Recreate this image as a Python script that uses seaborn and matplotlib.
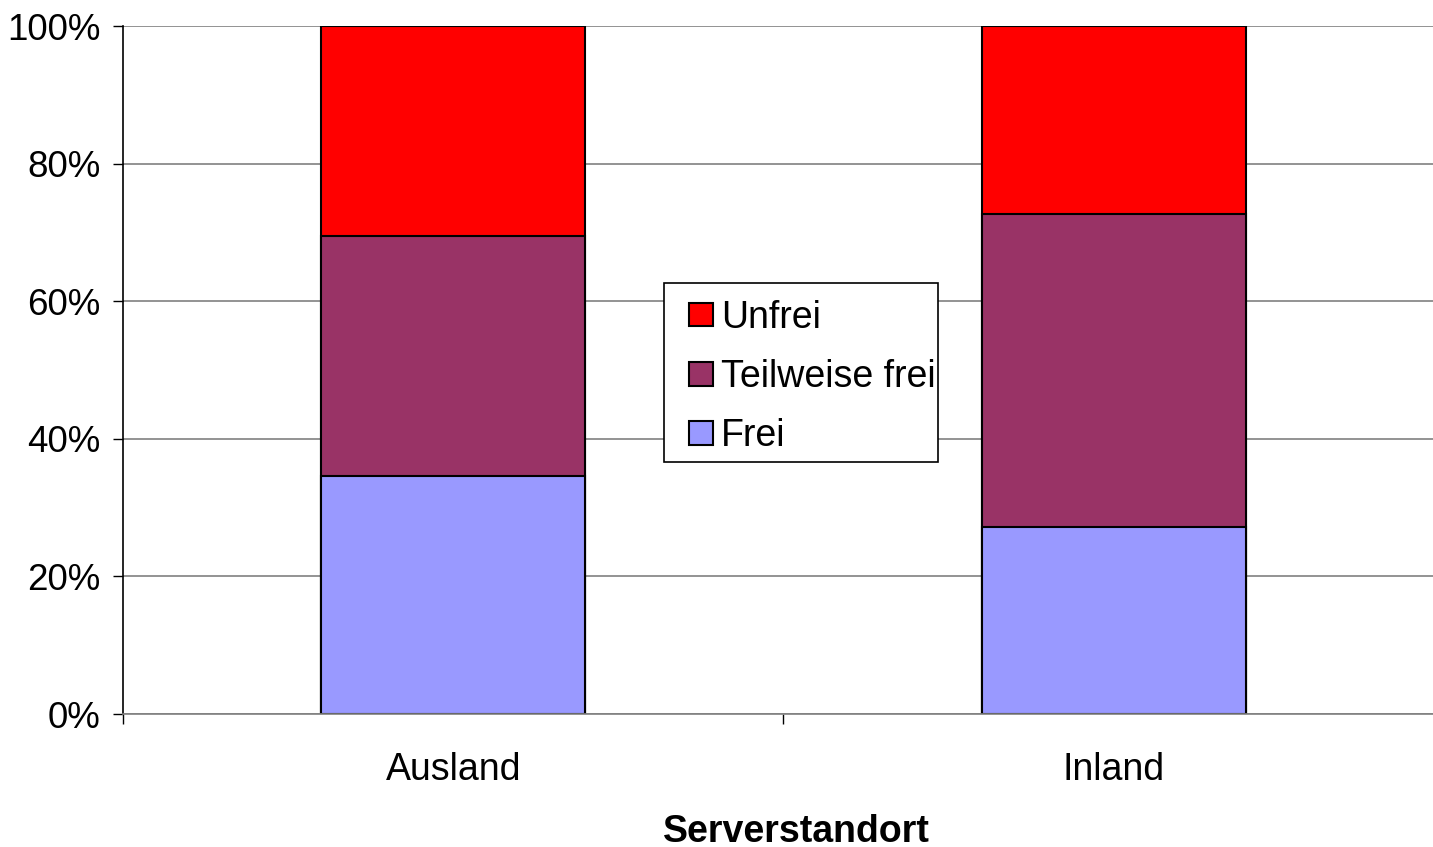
import seaborn as sns
import matplotlib.pyplot as plt
import pandas as pd
from matplotlib.patches import Patch, Rectangle
from matplotlib.legend_handler import HandlerPatch
from matplotlib.ticker import PercentFormatter

# Werte (Anteile in %)
standorte = ["Ausland", "Inland"]
frei = [34.6, 27.2]
teilweise_frei = [34.9, 45.5]
unfrei = [30.5, 27.3]

farben = {"Unfrei": "#FF0000", "Teilweise frei": "#993366", "Frei": "#9999FF"}

df = pd.DataFrame({"Serverstandort": standorte, "Frei": frei,
                   "Teilweise frei": teilweise_frei, "Unfrei": unfrei})
# kumulierte Hoehen fuer gestapelte Balken
df["cum_frei"] = df["Frei"]
df["cum_teil"] = df["Frei"] + df["Teilweise frei"]
df["cum_unfrei"] = df["cum_teil"] + df["Unfrei"]

sns.set_style("white")
plt.rcParams["font.family"] = ["Liberation Sans", "DejaVu Sans"]
plt.rcParams["text.color"] = "black"
plt.rcParams["axes.labelcolor"] = "black"
plt.rcParams["xtick.color"] = "black"
plt.rcParams["ytick.color"] = "black"

fig = plt.figure(figsize=(14.33, 8.47), dpi=100)
ax = fig.add_axes([0.0858, 0.157, 0.9218, 0.8123])
ax.set_axisbelow(True)
ax.yaxis.grid(True, color="#808080", lw=1.2)

for col, name in [("cum_unfrei", "Unfrei"), ("cum_teil", "Teilweise frei"), ("cum_frei", "Frei")]:
    sns.barplot(data=df, x="Serverstandort", y=col, color=farben[name], width=0.4,
                edgecolor="black", linewidth=1.5, saturation=1, ax=ax)

ax.set_ylim(0, 100)
ax.set_xlim(-0.5, 1.5)
ax.set_yticks([0, 20, 40, 60, 80, 100])
ax.yaxis.set_major_formatter(PercentFormatter(decimals=0))
ax.tick_params(axis="y", labelsize=26.5, length=7, width=1, direction="out", left=True, pad=9)
ax.tick_params(axis="x", which="major", labelsize=27, length=0, pad=27)
ax.set_xticks([-0.5, 0.5, 1.5], minor=True)
ax.tick_params(axis="x", which="minor", length=7, width=1, direction="out", bottom=True, color="black")
ax.set_ylabel("")
ax.set_xlabel("Serverstandort", fontsize=27, fontweight="bold")
ax.xaxis.set_label_coords(0.51, -0.145)

for s in ["top", "right"]:
    ax.spines[s].set_visible(False)
ax.spines["left"].set_color("black")
ax.spines["left"].set_linewidth(1.2)
ax.spines["bottom"].set_color("#808080")
ax.spines["bottom"].set_linewidth(1.2)


# quadratisches Legendensymbol, rechtsbuendig im Handle-Feld
def square_patch(legend, orig_handle, xdescent, ydescent, width, height, fontsize):
    return Rectangle((-xdescent + width - height, -ydescent), height, height)


handles = [Patch(facecolor=farben[n], edgecolor="black", linewidth=1.5, label=n)
           for n in ["Unfrei", "Teilweise frei", "Frei"]]
leg = ax.legend(handles=handles, loc="upper left", bbox_to_anchor=(0.4095, 0.6265),
                fontsize=27, frameon=False, handlelength=0.85, handleheight=0.58,
                handletextpad=0.22, labelspacing=0.62, borderpad=0.45, borderaxespad=0,
                handler_map={Patch: HandlerPatch(patch_func=square_patch)})
# enger Legendenrahmen wie im Original
ax.add_patch(Rectangle((0.4095, 0.3663), 0.2074, 0.2602, transform=ax.transAxes,
                       facecolor="white", edgecolor="black", linewidth=1.2, zorder=4.5))
leg.set_zorder(5)

fig.savefig("out.png", dpi=100)
